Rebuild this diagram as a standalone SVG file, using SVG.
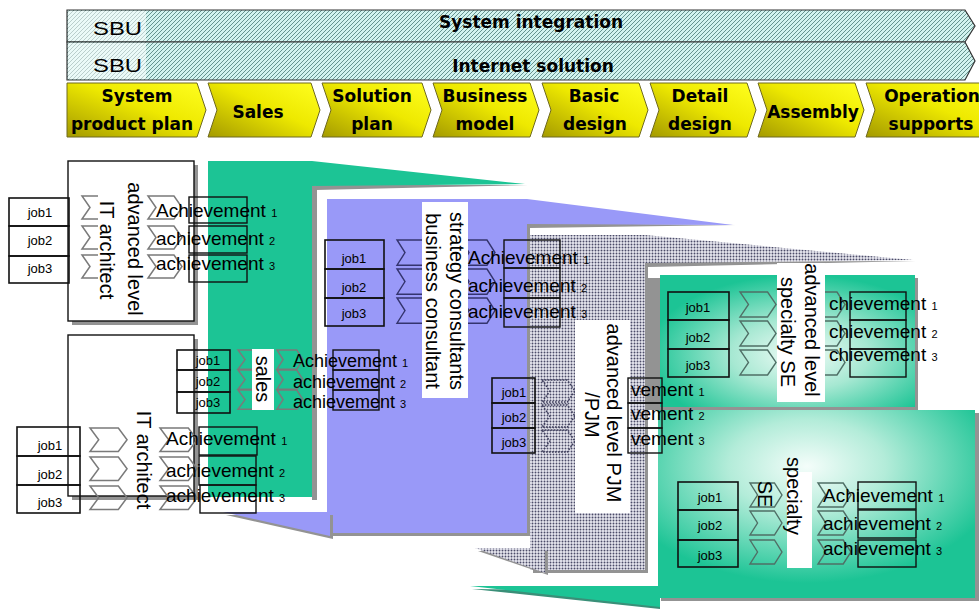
<svg xmlns="http://www.w3.org/2000/svg" width="979" height="609" viewBox="0 0 979 609">
<style>
.t{font-family:"Liberation Sans",Arial,sans-serif;fill:#000}
.ach{font-size:19px}
.achs{font-size:18px}
.num{font-size:11px}
.job{font-size:13px;text-anchor:middle}
.rot{font-size:20px;text-anchor:middle}
.hd{font-family:"DejaVu Sans",sans-serif;font-weight:bold;font-size:17px;text-anchor:middle;fill:#000}
.sbu{font-family:"Liberation Sans",Arial,sans-serif;font-size:18px;fill:#000}
.band{fill:url(#hatch);stroke:#333;stroke-width:1.2}
.stage{fill:url(#yel);stroke:#6f6a20;stroke-width:1}
.jb{fill:none;stroke:#111;stroke-width:1.6}
.ab{fill:none;stroke:#111;stroke-width:1.4}
.chev{fill:none;stroke:#7a7a7a;stroke-width:1.5}
.chevp{fill:none;stroke:#34346e;stroke-width:1.4}
.chevd{fill:none;stroke:#3c3c5a;stroke-width:1.5;stroke-dasharray:1.5 1.5}
.chevg{fill:none;stroke:#4f6f66;stroke-width:1.4}
.lbl{fill:#fff}
.sh{fill:#939393}
.itbox{fill:#fff;stroke:#111;stroke-width:1.4}
</style>
<defs>
<pattern id="hatch" width="4" height="4" patternUnits="userSpaceOnUse">
<rect width="4" height="4" fill="#d2f3ef"/>
<path d="M-1,5 L5,-1 M-1,1 L1,-1 M3,5 L5,3" stroke="#4a7a76" stroke-width="0.8"/>
</pattern>
<pattern id="dots" width="3" height="3" patternUnits="userSpaceOnUse">
<rect width="3" height="3" fill="#e8e8f0"/>
<circle cx="1.5" cy="1.5" r="0.95" fill="#4b4b68"/>
</pattern>
<linearGradient id="yel" x1="0" y1="1" x2="1" y2="0">
<stop offset="0" stop-color="#a49a00"/>
<stop offset="0.55" stop-color="#eee900"/>
<stop offset="1" stop-color="#ffff20"/>
</linearGradient>
<radialGradient id="gF" cx="0.55" cy="0.6" r="0.6">
<stop offset="0" stop-color="#f2fcf8"/>
<stop offset="0.45" stop-color="#a6e8d2"/>
<stop offset="1" stop-color="#1cc495"/>
</radialGradient>
<radialGradient id="gG" cx="0.47" cy="0.3" r="0.62">
<stop offset="0" stop-color="#f4fdfa"/>
<stop offset="0.4" stop-color="#b3ecd9"/>
<stop offset="1" stop-color="#1cc495"/>
</radialGradient>
<polygon id="cv" points="0,0 26,0 34,12 26,24 0,24 8,12" vector-effect="non-scaling-stroke"/>
</defs>
<rect width="979" height="609" fill="#fff"/>

<!-- Header bands -->
<g id="band-system-integration">
<polygon class="band" points="67,10 965,10 975,26 965,42 67,42"/>
<rect x="68" y="11" width="78" height="30" fill="#fff" opacity="0.55"/>
<text class="sbu" x="93" y="35" textLength="49" lengthAdjust="spacingAndGlyphs">SBU</text>
<text class="hd" x="531" y="28">System integration</text>
</g>
<g id="band-internet-solution">
<polygon class="band" points="67,42 965,42 975,61 965,80 67,80"/>
<rect x="68" y="43" width="78" height="36" fill="#fff" opacity="0.55"/>
<text class="sbu" x="93" y="72" textLength="49" lengthAdjust="spacingAndGlyphs">SBU</text>
<text class="hd" x="533" y="72">Internet solution</text>
</g>

<!-- Stage chevrons -->
<g id="stage-system-product-plan">
<polygon class="stage" points="67,83 197,83 206,110 197,137 67,137"/>
<text class="hd" x="137" y="102">System</text>
<text class="hd" x="132" y="130">product plan</text>
</g>
<g id="stage-sales">
<polygon class="stage" points="208,83 311,83 320,110 311,137 208,137 217,110"/>
<text class="hd" x="258" y="118">Sales</text>
</g>
<g id="stage-solution-plan">
<polygon class="stage" points="322,83 422,83 431,110 422,137 322,137 331,110"/>
<text class="hd" x="372" y="102">Solution</text>
<text class="hd" x="372" y="130">plan</text>
</g>
<g id="stage-business-model">
<polygon class="stage" points="433,83 530,83 539,110 530,137 433,137 442,110"/>
<text class="hd" x="485" y="102">Business</text>
<text class="hd" x="485" y="130">model</text>
</g>
<g id="stage-basic-design">
<polygon class="stage" points="542,83 639,83 648,110 639,137 542,137 551,110"/>
<text class="hd" x="594" y="102">Basic</text>
<text class="hd" x="595" y="130">design</text>
</g>
<g id="stage-detail-design">
<polygon class="stage" points="650,83 747,83 756,110 747,137 650,137 659,110"/>
<text class="hd" x="700" y="102">Detail</text>
<text class="hd" x="700" y="130">design</text>
</g>
<g id="stage-assembly">
<polygon class="stage" points="758,83 855,83 864,110 855,137 758,137 767,110"/>
<text class="hd" x="813" y="118">Assembly</text>
</g>
<g id="stage-operation-supports">
<polygon class="stage" points="866,83 985,83 994,110 985,137 866,137 875,110"/>
<text class="hd" x="932" y="102">Operation</text>
<text class="hd" x="931" y="130">supports</text>
</g>

<!-- Card backdrops -->
<g id="cards">
<rect class="sh" x="312" y="186" width="5" height="314"/>
<rect x="208" y="161" width="104" height="336" fill="#1cc495"/>
<rect class="sh" x="330" y="202" width="200" height="334"/>
<rect x="327" y="199" width="200" height="334" fill="#9999f8"/>
<rect class="sh" x="648" y="278" width="270" height="132"/>
<rect x="660" y="275" width="255" height="132" fill="url(#gF)"/>
<rect class="sh" x="533" y="238" width="115" height="335"/>
<rect x="530" y="235" width="115" height="335" fill="url(#dots)"/>
<rect class="sh" x="661" y="413" width="318" height="188"/>
<rect x="658" y="410" width="317" height="188" fill="url(#gG)"/>
</g>

<!-- Perspective wedges between cards -->
<g id="connectors">
<polygon class="sh" points="316,185 528,185 316,190"/>
<polygon points="312,161 525,184 312,186" fill="#1cc495"/>
<polygon class="sh" points="530,223 736,225 530,228"/>
<polygon points="527,199 733,225 527,224" fill="#9999f8"/>
<polygon class="sh" points="648,262 916,261 648,267"/>
<polygon points="645,235 913,260 645,263" fill="url(#dots)"/>
<polygon class="sh" points="226,515 333,515 333,539"/>
<polygon points="223,512 330,512 330,536" fill="#9999f8"/>
<polygon class="sh" points="478,551 548,551 548,575"/>
<polygon points="475,548 545,548 545,573" fill="url(#dots)"/>
<polygon points="472,589 660,591 660,609" fill="#3a8f78"/>
<polygon points="470,586 660,586 660,607" fill="#1cc495"/>
</g>

<!-- Node: advanced level IT architect -->
<g id="node-advanced-it-architect">
<rect class="sh" x="72" y="165" width="126" height="160"/>
<rect class="itbox" x="68" y="161" width="126" height="160"/>
<rect class="jb" x="9" y="198" width="60" height="28"/>
<rect class="jb" x="9" y="226" width="60" height="30"/>
<rect class="jb" x="9" y="256" width="60" height="27"/>
<text class="t job" x="40" y="217">job1</text>
<text class="t job" x="40" y="245">job2</text>
<text class="t job" x="40" y="273">job3</text>
<use href="#cv" class="chev" transform="translate(82,196) scale(1,0.96)"/>
<use href="#cv" class="chev" transform="translate(82,226) scale(1,0.96)"/>
<use href="#cv" class="chev" transform="translate(82,255) scale(1,0.96)"/>
<rect class="lbl" x="98" y="172" width="50" height="147"/>
<use href="#cv" class="chev" transform="translate(148,196) scale(1,0.96)"/>
<use href="#cv" class="chev" transform="translate(148,226) scale(1,0.96)"/>
<use href="#cv" class="chev" transform="translate(148,255) scale(1,0.96)"/>
<text class="t rot" transform="translate(128,249) rotate(90)">advanced level</text>
<text class="t rot" transform="translate(100,250) rotate(90)">IT architect</text>
<rect class="ab" x="189" y="197" width="58" height="26"/>
<rect class="ab" x="189" y="226" width="58" height="27"/>
<rect class="ab" x="189" y="255" width="58" height="27"/>
<text class="t ach" x="156" y="217">Achievement <tspan class="num">1</tspan></text>
<text class="t ach" x="156" y="245">achievement <tspan class="num">2</tspan></text>
<text class="t ach" x="156" y="270">achievement <tspan class="num">3</tspan></text>
</g>

<!-- Node: IT architect -->
<g id="node-it-architect">
<rect class="sh" x="72" y="339" width="126" height="161"/>
<rect class="itbox" x="68" y="335" width="126" height="161"/>
<rect class="jb" x="17" y="427" width="63" height="29"/>
<rect class="jb" x="17" y="456" width="63" height="29"/>
<rect class="jb" x="17" y="485" width="63" height="28"/>
<text class="t job" x="50" y="450">job1</text>
<text class="t job" x="50" y="479">job2</text>
<text class="t job" x="50" y="507">job3</text>
<use href="#cv" class="chev" transform="translate(90,428) scale(1.09,0.98)"/>
<use href="#cv" class="chev" transform="translate(90,457) scale(1.09,0.98)"/>
<use href="#cv" class="chev" transform="translate(90,486) scale(1.09,0.98)"/>
<use href="#cv" class="chev" transform="translate(160,428) scale(1.09,0.98)"/>
<use href="#cv" class="chev" transform="translate(160,457) scale(1.09,0.98)"/>
<use href="#cv" class="chev" transform="translate(160,486) scale(1.09,0.98)"/>
<text class="t rot" transform="translate(137,460) rotate(90)">IT architect</text>
<rect class="ab" x="199" y="427" width="58" height="28"/>
<rect class="ab" x="199" y="456" width="57" height="29"/>
<rect class="ab" x="200" y="485" width="56" height="28"/>
<text class="t ach" x="166" y="445">Achievement <tspan class="num">1</tspan></text>
<text class="t ach" x="166" y="477">achievement <tspan class="num">2</tspan></text>
<text class="t ach" x="166" y="502">achievement <tspan class="num">3</tspan></text>
</g>

<!-- Node: sales -->
<g id="node-sales">
<rect class="jb" x="177" y="350" width="53" height="20"/>
<rect class="jb" x="177" y="370" width="53" height="22"/>
<rect class="jb" x="177" y="392" width="53" height="21"/>
<text class="t job" x="208" y="365">job1</text>
<text class="t job" x="208" y="386">job2</text>
<text class="t job" x="208" y="407">job3</text>
<use href="#cv" class="chev" transform="translate(238,350) scale(0.88,0.8)"/>
<use href="#cv" class="chev" transform="translate(238,370) scale(0.88,0.8)"/>
<use href="#cv" class="chev" transform="translate(238,390) scale(0.88,0.8)"/>
<rect class="lbl" x="252" y="349" width="22" height="61"/>
<text class="t rot" transform="translate(256,379) rotate(90)">sales</text>
<use href="#cv" class="chev" transform="translate(277,350) scale(0.76,0.8)"/>
<use href="#cv" class="chev" transform="translate(277,370) scale(0.76,0.8)"/>
<use href="#cv" class="chev" transform="translate(277,390) scale(0.76,0.8)"/>
<rect class="ab" x="333" y="350" width="46" height="20"/>
<rect class="ab" x="333" y="370" width="46" height="20"/>
<rect class="ab" x="333" y="390" width="46" height="20"/>
<text class="t achs" x="293" y="367">Achievement <tspan class="num">1</tspan></text>
<text class="t achs" x="293" y="388">achievement <tspan class="num">2</tspan></text>
<text class="t achs" x="293" y="408">achievement <tspan class="num">3</tspan></text>
</g>

<!-- Node: strategy consultants / business consultant -->
<g id="node-strategy-consultants">
<rect class="jb" x="325" y="240" width="59" height="29"/>
<rect class="jb" x="325" y="269" width="59" height="29"/>
<rect class="jb" x="325" y="298" width="59" height="28"/>
<text class="t job" x="354" y="263">job1</text>
<text class="t job" x="354" y="292">job2</text>
<text class="t job" x="354" y="318">job3</text>
<use href="#cv" class="chevp" transform="translate(397,240) scale(1,1.05)"/>
<use href="#cv" class="chevp" transform="translate(397,269) scale(1,1.05)"/>
<use href="#cv" class="chevp" transform="translate(397,298) scale(1,1.05)"/>
<use href="#cv" class="chevp" transform="translate(461,240) scale(1,1.05)"/>
<use href="#cv" class="chevp" transform="translate(461,269) scale(1,1.05)"/>
<use href="#cv" class="chevp" transform="translate(461,298) scale(1,1.05)"/>
<rect class="lbl" x="422" y="202" width="46" height="196"/>
<text class="t rot" transform="translate(450,301) rotate(90)">strategy consultants</text>
<text class="t rot" transform="translate(426,301) rotate(90)">business consultant</text>
<rect class="ab" x="504" y="240" width="56" height="28"/>
<rect class="ab" x="504" y="268" width="56" height="30"/>
<rect class="ab" x="504" y="298" width="56" height="29"/>
<text class="t ach" x="468" y="264">Achievement <tspan class="num">1</tspan></text>
<text class="t ach" x="468" y="292">achievement <tspan class="num">2</tspan></text>
<text class="t ach" x="468" y="318">achievement <tspan class="num">3</tspan></text>
</g>

<!-- Node: advanced level PJM /PJM -->
<g id="node-pjm">
<rect class="jb" x="492" y="378" width="43" height="25"/>
<rect class="jb" x="492" y="403" width="43" height="25"/>
<rect class="jb" x="492" y="428" width="43" height="25"/>
<text class="t job" x="514" y="397">job1</text>
<text class="t job" x="514" y="422">job2</text>
<text class="t job" x="514" y="447">job3</text>
<use href="#cv" class="chevd" transform="translate(542,380) scale(0.97,0.92)"/>
<use href="#cv" class="chevd" transform="translate(542,405) scale(0.97,0.92)"/>
<use href="#cv" class="chevd" transform="translate(542,430) scale(0.97,0.92)"/>
<rect class="lbl" x="575" y="320" width="55" height="193"/>
<text class="t rot" transform="translate(607,413) rotate(90)">advanced level PJM</text>
<text class="t rot" transform="translate(585,415) rotate(90)">/PJM</text>
<rect class="ab" x="628" y="378" width="34" height="25"/>
<rect class="ab" x="628" y="403" width="34" height="25"/>
<rect class="ab" x="628" y="428" width="34" height="25"/>
<text class="t ach" x="631" y="396">vement <tspan class="num">1</tspan></text>
<text class="t ach" x="631" y="420">vement <tspan class="num">2</tspan></text>
<text class="t ach" x="631" y="445">vement <tspan class="num">3</tspan></text>
</g>

<!-- Node: advanced level specialty SE -->
<g id="node-advanced-specialty-se">
<rect class="jb" x="668" y="292" width="61" height="28"/>
<rect class="jb" x="668" y="320" width="61" height="29"/>
<rect class="jb" x="668" y="349" width="61" height="28"/>
<text class="t job" x="698" y="312">job1</text>
<text class="t job" x="698" y="342">job2</text>
<text class="t job" x="698" y="370">job3</text>
<use href="#cv" class="chevg" transform="translate(740,292) scale(1.06,1.04)"/>
<use href="#cv" class="chevg" transform="translate(740,321) scale(1.06,1.04)"/>
<use href="#cv" class="chevg" transform="translate(740,350) scale(1.06,1.04)"/>
<use href="#cv" class="chevg" transform="translate(811,292) scale(1,1.04)"/>
<use href="#cv" class="chevg" transform="translate(811,321) scale(1,1.04)"/>
<use href="#cv" class="chevg" transform="translate(811,350) scale(1,1.04)"/>
<rect class="lbl" x="777" y="263" width="48" height="139"/>
<text class="t rot" transform="translate(805,330) rotate(90)">advanced level</text>
<text class="t rot" transform="translate(781,332) rotate(90)">specialty SE</text>
<rect class="ab" x="850" y="292" width="56" height="28"/>
<rect class="ab" x="850" y="320" width="56" height="29"/>
<rect class="ab" x="850" y="349" width="56" height="28"/>
<text class="t ach" x="829" y="310">chievement <tspan class="num">1</tspan></text>
<text class="t ach" x="829" y="338">chievement <tspan class="num">2</tspan></text>
<text class="t ach" x="829" y="361">chievement <tspan class="num">3</tspan></text>
</g>

<!-- Node: specialty SE -->
<g id="node-specialty-se">
<rect class="jb" x="678" y="482" width="60" height="28"/>
<rect class="jb" x="678" y="510" width="60" height="30"/>
<rect class="jb" x="678" y="540" width="60" height="27"/>
<text class="t job" x="710" y="502">job1</text>
<text class="t job" x="710" y="530">job2</text>
<text class="t job" x="710" y="560">job3</text>
<use href="#cv" class="chevg" transform="translate(750,483) scale(0.94,1)"/>
<use href="#cv" class="chevg" transform="translate(750,511) scale(0.94,1)"/>
<use href="#cv" class="chevg" transform="translate(750,540) scale(0.94,1)"/>
<use href="#cv" class="chevg" transform="translate(818,483) scale(0.97,1)"/>
<use href="#cv" class="chevg" transform="translate(818,511) scale(0.97,1)"/>
<use href="#cv" class="chevg" transform="translate(818,540) scale(0.97,1)"/>
<rect class="lbl" x="787" y="472" width="25" height="96"/>
<text class="t rot" transform="translate(787,496) rotate(90)">specialty</text>
<text class="t rot" transform="translate(758,494) rotate(90)">SE</text>
<rect class="ab" x="858" y="482" width="58" height="27"/>
<rect class="ab" x="858" y="510" width="58" height="28"/>
<rect class="ab" x="858" y="540" width="58" height="27"/>
<text class="t ach" x="823" y="502">Achievement <tspan class="num">1</tspan></text>
<text class="t ach" x="823" y="530">achievement <tspan class="num">2</tspan></text>
<text class="t ach" x="823" y="555">achievement <tspan class="num">3</tspan></text>
</g>
</svg>
